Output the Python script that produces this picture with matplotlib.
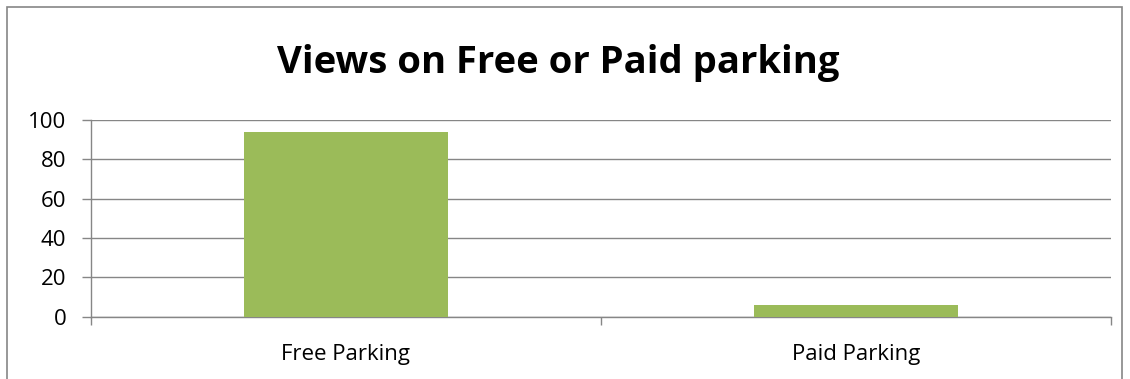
import matplotlib.pyplot as plt
from matplotlib.patches import Rectangle

# survey answers (percent)
categories = ['Free Parking', 'Paid Parking']
values = [94, 6]

bar_color = '#9BBB59'
grid_color = '#868686'

plt.rcParams['font.family'] = ['Open Sans', 'DejaVu Sans']

fig = plt.figure(figsize=(11.3, 3.79), dpi=100)
ax = fig.add_axes([90.7 / 1130, 1 - 316.7 / 379, (1110.7 - 90.7) / 1130, (316.7 - 120) / 379])

x = list(range(len(categories)))
ax.bar(x, values, width=0.4, color=bar_color, zorder=3)

ax.set_xlim(-0.5, len(categories) - 0.5)
ax.set_ylim(0, 100)
ax.set_yticks(range(0, 101, 20))
ax.yaxis.grid(True, color=grid_color, linewidth=1, zorder=0)

for side in ['top', 'right']:
    ax.spines[side].set_visible(False)
for side in ['left', 'bottom']:
    ax.spines[side].set_color(grid_color)
    ax.spines[side].set_linewidth(1)

# category separator ticks on the x axis
ax.set_xticks([-0.5, 0.5, 1.5])
ax.set_xticklabels([])
ax.tick_params(axis='x', direction='out', length=6, color=grid_color, width=1)
ax.tick_params(axis='y', direction='out', length=6.5, color=grid_color, width=1,
               labelsize=16, pad=11)
for i, name in enumerate(categories):
    ax.text(i, -0.22, name, ha='center', va='baseline', fontsize=16,
            transform=ax.get_xaxis_transform())

fig.text(558 / 1130, 1 - 73 / 379, 'Views on Free or Paid parking', ha='center', va='baseline',
         fontsize=27.5, fontweight='bold')

# chart border
fig.patches.append(Rectangle((7 / 1130, -0.05), (1122 - 7) / 1130, 1 - 7 / 379 + 0.05,
                             transform=fig.transFigure, fill=False,
                             edgecolor='#868686', linewidth=1.2))

fig.savefig('out.png', dpi=100)
